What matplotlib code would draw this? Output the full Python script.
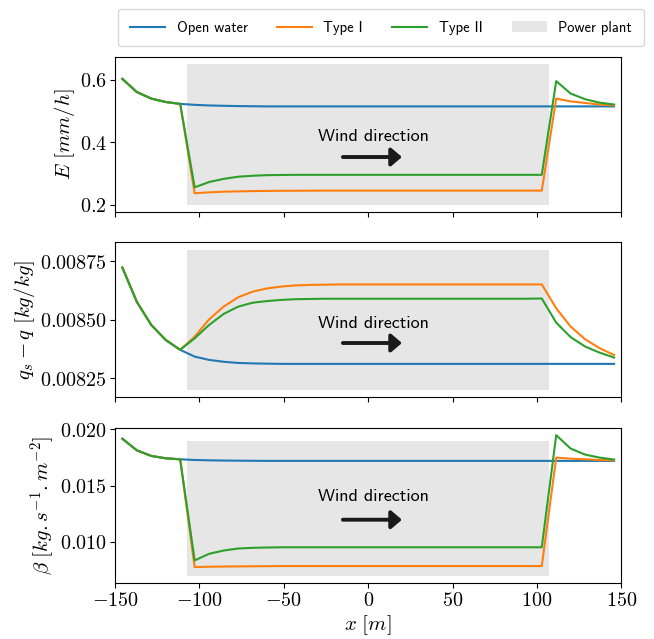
import numpy as np
import matplotlib
matplotlib.use('Agg')
import matplotlib.pyplot as plt
from matplotlib.ticker import FuncFormatter, FixedLocator
from matplotlib.patches import Patch
from matplotlib.lines import Line2D

plt.rcParams['mathtext.fontset'] = 'cm'
plt.rcParams['axes.unicode_minus'] = True

# cell centres along the transect [m]
x = [-145.71, -137.14, -128.57, -120.00, -111.43,
     -102.86, -94.29, -85.71, -77.14, -68.57, -60.00, -51.43, -42.86, -34.29,
     -25.71, -17.14, -8.57, 0.00, 8.57, 17.14, 25.71, 34.29, 42.86, 51.43,
     60.00, 68.57, 77.14, 85.71, 94.29, 102.86,
     111.43, 120.00, 128.57, 137.14, 145.71]

plant_edges = [-107.14, 107.14]

# evaporation E [mm/h]
E_open = [0.602, 0.560, 0.539, 0.528, 0.522,
          0.519, 0.517, 0.516, 0.515, 0.5145, 0.514, 0.514, 0.514, 0.514,
          0.514, 0.514, 0.514, 0.514, 0.514, 0.514, 0.514, 0.514, 0.514, 0.514,
          0.514, 0.514, 0.514, 0.514, 0.514, 0.514,
          0.514, 0.514, 0.514, 0.514, 0.514]
E_type1 = [0.602, 0.560, 0.539, 0.528, 0.522,
           0.236, 0.239, 0.241, 0.242, 0.243, 0.2435, 0.244, 0.244, 0.2443,
           0.2445, 0.2445, 0.2445, 0.2445, 0.2445, 0.2445, 0.2445, 0.2445, 0.2445, 0.2445,
           0.2445, 0.2445, 0.2445, 0.2445, 0.2445, 0.2445,
           0.539, 0.530, 0.525, 0.520, 0.517]
E_type2 = [0.602, 0.560, 0.539, 0.528, 0.522,
           0.255, 0.272, 0.282, 0.289, 0.292, 0.294, 0.2945, 0.295, 0.295,
           0.295, 0.295, 0.295, 0.295, 0.295, 0.295, 0.295, 0.295, 0.295, 0.295,
           0.295, 0.295, 0.295, 0.295, 0.295, 0.295,
           0.595, 0.555, 0.537, 0.526, 0.520]

# humidity deficit qs - q [kg/kg]
dq_open = [0.008723, 0.008577, 0.008478, 0.008414, 0.008372,
           0.008343, 0.008329, 0.008321, 0.008316, 0.008314, 0.008313, 0.008312, 0.008312, 0.008312,
           0.008312, 0.008312, 0.008312, 0.008312, 0.008312, 0.008312, 0.008312, 0.008312, 0.008312, 0.008312,
           0.008312, 0.008312, 0.008312, 0.008312, 0.008312, 0.008312,
           0.008312, 0.008312, 0.008312, 0.008312, 0.008312]
dq_type1 = [0.008723, 0.008577, 0.008478, 0.008414, 0.008372,
            0.008428, 0.008502, 0.008556, 0.008596, 0.008620, 0.008634, 0.008642, 0.008647, 0.008649,
            0.008650, 0.008651, 0.008651, 0.008651, 0.008651, 0.008651, 0.008651, 0.008651, 0.008651, 0.008651,
            0.008651, 0.008651, 0.008651, 0.008651, 0.008651, 0.008651,
            0.008549, 0.008471, 0.008417, 0.008379, 0.008350]
dq_type2 = [0.008723, 0.008577, 0.008478, 0.008414, 0.008372,
            0.008421, 0.008478, 0.008525, 0.008556, 0.008573, 0.008580, 0.008585, 0.008588, 0.008589,
            0.008590, 0.008590, 0.008590, 0.008590, 0.008590, 0.008590, 0.008590, 0.008590, 0.008590, 0.008590,
            0.008590, 0.008590, 0.008590, 0.008590, 0.008590, 0.008591,
            0.008488, 0.008426, 0.008386, 0.008360, 0.008339]

# transfer coefficient beta [kg.s-1.m-2]
b_open = [0.01918, 0.01815, 0.01765, 0.01744, 0.01735,
          0.01729, 0.01726, 0.01724, 0.01723, 0.01722, 0.01721, 0.01721, 0.01721, 0.01721,
          0.01721, 0.01721, 0.01721, 0.01721, 0.01721, 0.01721, 0.01721, 0.01721, 0.01721, 0.01721,
          0.01721, 0.01721, 0.01721, 0.01721, 0.01721, 0.01721,
          0.01721, 0.01721, 0.01721, 0.01721, 0.01721]
b_type1 = [0.01918, 0.01815, 0.01765, 0.01744, 0.01735,
           0.00777, 0.00780, 0.00782, 0.00783, 0.00784, 0.00785, 0.00786, 0.00786, 0.00786,
           0.00786, 0.00786, 0.00786, 0.00786, 0.00786, 0.00786, 0.00786, 0.00786, 0.00786, 0.00786,
           0.00786, 0.00786, 0.00786, 0.00786, 0.00786, 0.00786,
           0.01750, 0.01741, 0.01735, 0.01729, 0.01726]
b_type2 = [0.01918, 0.01815, 0.01765, 0.01744, 0.01735,
           0.00836, 0.00895, 0.00924, 0.00942, 0.00948, 0.00951, 0.00953, 0.00953, 0.00953,
           0.00953, 0.00953, 0.00953, 0.00953, 0.00953, 0.00953, 0.00953, 0.00953, 0.00953, 0.00953,
           0.00953, 0.00953, 0.00953, 0.00953, 0.00953, 0.00953,
           0.01950, 0.01830, 0.01777, 0.01750, 0.01733]

series_labels = ['Open water', 'Type I', 'Type II']
series_colors = ['#1f77b4', '#ff7f0e', '#2ca02c']

panels = [
    dict(data=[E_open, E_type1, E_type2], plant=(0.2, 0.65),
         ylabel=r'$E\ [mm/h]$', yticks=[0.2, 0.4, 0.6], fmt='%.1f',
         text_y=0.419, arrow_y=0.352),
    dict(data=[dq_open, dq_type1, dq_type2], plant=(0.0082, 0.0088),
         ylabel=r'$q_s - q\ [kg/kg]$', yticks=[0.00825, 0.00850, 0.00875], fmt='%.5f',
         text_y=0.008486, arrow_y=0.008401),
    dict(data=[b_open, b_type1, b_type2], plant=(0.007, 0.019),
         ylabel=r'$\beta\ [kg{.}s^{-1}{.}m^{-2}]$', yticks=[0.010, 0.015, 0.020], fmt='%.3f',
         text_y=0.0140, arrow_y=0.01198),
]

fig, axes = plt.subplots(3, 1, figsize=(6.54, 6.39), dpi=100, sharex=True)
fig.subplots_adjust(left=0.176, right=0.95, top=0.911, bottom=0.088, hspace=0.2)

tick_font = 14.5
sans = 'cmss10'

for ax, p in zip(axes, panels):
    ax.fill_between(plant_edges, [p['plant'][0]] * 2, [p['plant'][1]] * 2,
                    color='0.9', lw=0)
    for vals, col in zip(p['data'], series_colors):
        ax.plot(x, vals, color=col, lw=1.5)
    ax.set_xlim(-150, 150)
    ax.yaxis.set_major_locator(FixedLocator(p['yticks']))
    fmt = p['fmt']
    ax.yaxis.set_major_formatter(FuncFormatter(lambda v, pos, f=fmt: '$' + (f % v) + '$'))
    ax.set_ylabel(p['ylabel'], fontsize=15, labelpad=2)
    ax.tick_params(labelsize=tick_font, pad=2.5)
    ax.text(3, p['text_y'], 'Wind direction', family=sans, fontsize=13,
            ha='center', va='center')
    ax.annotate('', xy=(20, p['arrow_y']), xytext=(-15, p['arrow_y']),
                arrowprops=dict(arrowstyle='-|>,head_length=0.35,head_width=0.3',
                                lw=2.8, color='#1a1a1a',
                                mutation_scale=18, shrinkA=0, shrinkB=0))

axes[-1].xaxis.set_major_locator(FixedLocator([-150, -100, -50, 0, 50, 100, 150]))
axes[-1].xaxis.set_major_formatter(FuncFormatter(lambda v, pos: '$%d$' % v))
axes[-1].set_xlabel(r'$x\ [m]$', fontsize=15, labelpad=2)

handles = [Line2D([], [], color=c, lw=1.5) for c in series_colors]
handles.append(Patch(facecolor='0.9', edgecolor='none'))
fig.legend(handles, series_labels + ['Power plant'], loc='upper center',
           bbox_to_anchor=(0.5826, 0.986), ncol=4, prop=dict(family=sans, size=10.5),
           handlelength=2.4, handletextpad=0.8, columnspacing=2.0,
           borderpad=0.8, borderaxespad=0, fancybox=True)

fig.savefig('out.png', dpi=100)
